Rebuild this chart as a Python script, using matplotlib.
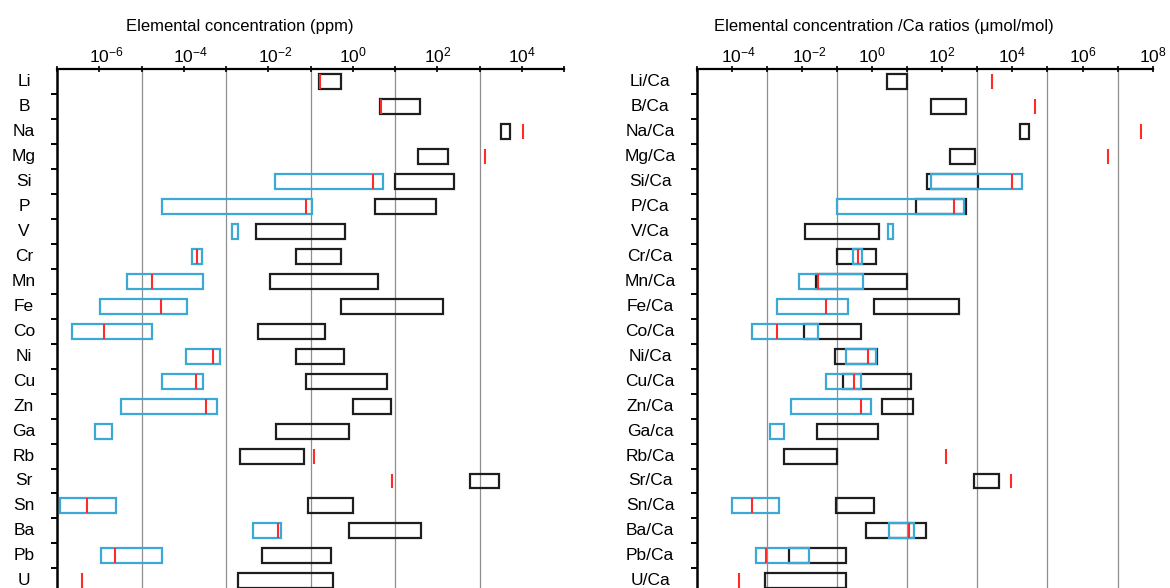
import numpy as np
import matplotlib
matplotlib.use('Agg')
import matplotlib.pyplot as plt
from matplotlib.ticker import NullLocator
from matplotlib.transforms import ScaledTranslation

plt.rcParams['font.family'] = ['Liberation Sans', 'DejaVu Sans']
plt.rcParams['mathtext.fontset'] = 'custom'
plt.rcParams['mathtext.rm'] = 'Liberation Sans'
plt.rcParams['mathtext.it'] = 'Liberation Sans:italic'
plt.rcParams['mathtext.bf'] = 'Liberation Sans:bold'

nan = np.nan

# left panel: elemental concentration (ppm)
ppm_labels = ['Li', 'B', 'Na', 'Mg', 'Si', 'P', 'V', 'Cr', 'Mn', 'Fe', 'Co',
              'Ni', 'Cu', 'Zn', 'Ga', 'Rb', 'Sr', 'Sn', 'Ba', 'Pb', 'U']
ppm_black_lo = [0.16, 4.4, 3100, 34, 10, 3.4, 5.1e-3, 0.046, 0.0112, 0.51, 5.8e-3,
                0.044, 0.079, 0.98, 0.015, 2.1e-3, 590, 0.087, 0.79, 6.9e-3, 1.9e-3]
ppm_black_hi = [0.51, 39, 5200, 180, 250, 93, 0.65, 0.51, 3.9, 138, 0.22,
                0.63, 6.3, 7.8, 0.81, 0.068, 2900, 1.0, 40, 0.31, 0.34]
ppm_blue_lo = [nan, nan, nan, nan, 0.0145, 3.1e-5, 1.35e-3, 1.55e-4, 4.6e-6, 1.05e-6, 2.3e-7,
               1.12e-4, 3.1e-5, 3.2e-6, 8.1e-7, nan, nan, 1.2e-7, 4.3e-3, 1.07e-6, nan]
ppm_blue_hi = [nan, nan, nan, nan, 5.2, 0.107, 1.9e-3, 2.7e-4, 2.8e-4, 1.2e-4, 1.8e-5,
               7.2e-4, 2.9e-4, 6.0e-4, 2.0e-6, nan, nan, 2.45e-6, 0.020, 3.1e-5, nan]
ppm_red = [0.17, 4.7, 10500, 1350, 3.0, 0.079, nan, 2.0e-4, 1.74e-5, 2.9e-5, 1.26e-6,
           4.9e-4, 1.95e-4, 3.3e-4, nan, 0.123, 8.3, 5.0e-7, 0.017, 2.3e-6, 4.0e-7]

# right panel: element/Ca ratios (umol/mol)
ratio_labels = ['Li/Ca', 'B/Ca', 'Na/Ca', 'Mg/Ca', 'Si/Ca', 'P/Ca', 'V/Ca', 'Cr/Ca',
                'Mn/Ca', 'Fe/Ca', 'Co/Ca', 'Ni/Ca', 'Cu/Ca', 'Zn/Ca', 'Ga/ca', 'Rb/Ca',
                'Sr/Ca', 'Sn/Ca', 'Ba/Ca', 'Pb/Ca', 'U/Ca']
ratio_black_lo = [2.7, 49, 16000, 166, 38, 18, 0.0123, 0.1, 0.025, 1.12, 0.0117,
                  0.089, 0.148, 1.86, 0.0275, 3.1e-3, 790, 0.091, 0.69, 4.4e-3, 8.7e-4]
ratio_black_hi = [10, 470, 29000, 870, 1070, 490, 1.55, 1.29, 10, 310, 0.48,
                  1.35, 12.6, 14.5, 1.48, 0.1, 4200, 1.12, 35, 0.18, 0.178]
ratio_blue_lo = [nan, nan, nan, nan, 49, 0.1, 2.9, 0.29, 8.3e-3, 1.95e-3, 3.8e-4,
                 0.178, 0.047, 4.9e-3, 1.26e-3, nan, nan, 1.0e-4, 3.1, 5.0e-4, nan]
ratio_blue_hi = [nan, nan, nan, nan, 18600, 430, 3.9, 0.52, 0.54, 0.2, 0.0295,
                 1.29, 0.49, 0.93, 3.1e-3, nan, nan, 2.2e-3, 15.8, 0.0158, nan]
ratio_red = [2600, 43000, 4.7e7, 5.2e6, 9500, 220, nan, 0.39, 0.029, 0.048, 1.9e-3,
             0.76, 0.30, 0.49, nan, 132, 8900, 3.8e-4, 11, 9.3e-4, 1.6e-4]

BLACK = '#1e1e1e'
BLUE = '#3aa9d6'
RED = '#ff2a2a'
W, H = 1170, 588


def draw_panel(ax, labels, black_lo, black_hi, blue_lo, blue_hi, red, exps, label_x):
    y = np.arange(len(labels))
    ax.set_xscale('log')
    ax.set_xlim(10.0 ** exps[0], 10.0 ** exps[-1])
    ax.set_ylim(len(labels) - 0.71, -0.5)

    for e in exps[1:-1]:
        if e % 2 != 0:
            ax.axvline(10.0 ** e, color='#8f8f8f', lw=0.9, zorder=0)

    blo, bhi = np.array(black_lo), np.array(black_hi)
    ax.barh(y, bhi - blo, left=blo, height=0.6, fill=False,
            edgecolor=BLACK, lw=1.6, zorder=2)

    clo, chi = np.array(blue_lo), np.array(blue_hi)
    m = ~np.isnan(clo)
    ax.barh(y[m], chi[m] - clo[m], left=clo[m], height=0.6, fill=False,
            edgecolor=BLUE, lw=1.6, zorder=3)

    r = np.array(red)
    m = ~np.isnan(r)
    ax.vlines(r[m], y[m] - 0.3, y[m] + 0.3, color=RED, lw=1.5, zorder=4)

    for yi, lab in zip(y, labels):
        ax.text(label_x, yi, lab, transform=ax.get_yaxis_transform(),
                ha='center', va='center', fontsize=12.5)

    ax.xaxis.tick_top()
    ax.set_xticks([10.0 ** e for e in exps])
    ax.set_xticklabels(['$\\mathregular{10^{%d}}$' % e if e % 2 == 0 else '' for e in exps])
    ax.xaxis.set_minor_locator(NullLocator())
    ax.tick_params(axis='x', direction='inout', length=4, width=1.2, pad=1, labelsize=12.5)
    # negative-exponent labels sit a little right of their tick in the original
    shift = ScaledTranslation(7 / 100, 0, ax.figure.dpi_scale_trans)
    for e, lab in zip(exps, ax.get_xticklabels()):
        if e < 0:
            lab.set_transform(lab.get_transform() + shift)

    ax.set_yticks(y[:-1] + 0.5)
    ax.set_yticklabels([])
    ax.yaxis.set_minor_locator(NullLocator())
    ax.tick_params(axis='y', direction='out', length=4, width=1.4)

    ax.spines['right'].set_visible(False)
    ax.spines['bottom'].set_visible(False)
    ax.spines['top'].set_linewidth(1.6)
    ax.spines['left'].set_linewidth(1.8)


fig = plt.figure(figsize=(W / 100, H / 100), dpi=100)
top = 1 - 69.4 / H
ax1 = fig.add_axes([57 / W, 0, (564.3 - 57) / W, top])
ax2 = fig.add_axes([696.7 / W, 0, (1152.7 - 696.7) / W, top])

draw_panel(ax1, ppm_labels, ppm_black_lo, ppm_black_hi, ppm_blue_lo, ppm_blue_hi,
           ppm_red, list(range(-7, 6)), (24 - 57) / (564.3 - 57))
draw_panel(ax2, ratio_labels, ratio_black_lo, ratio_black_hi, ratio_blue_lo, ratio_blue_hi,
           ratio_red, list(range(-5, 9)), (650 - 696.7) / (1152.7 - 696.7))

fig.text(240 / W, 1 - 27 / H, 'Elemental concentration (ppm)',
         ha='center', va='center', fontsize=12)
fig.text(884 / W, 1 - 27 / H, 'Elemental concentration /Ca ratios (\u03bcmol/mol)',
         ha='center', va='center', fontsize=12)

fig.savefig('out.png', dpi=100)
